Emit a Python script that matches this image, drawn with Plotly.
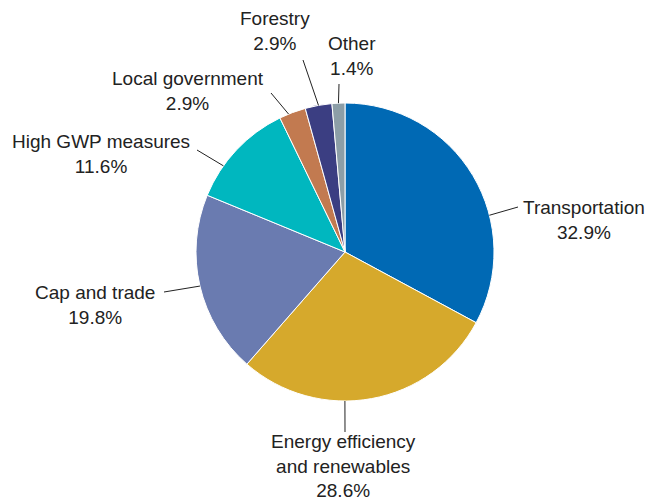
import math
import plotly.graph_objects as go

# ---- data ----
categories = ["Transportation", "Energy efficiency<br>and renewables", "Cap and trade",
              "High GWP measures", "Local government", "Forestry", "Other"]
shares = [32.9, 28.6, 19.8, 11.6, 2.9, 2.9, 1.4]
pct_labels = ["32.9%", "28.6%", "19.8%", "11.6%", "2.9%", "2.9%", "1.4%"]

# ---- style / layout ----
colors = ["#0069b4", "#d6a92c", "#6a7bb0", "#00b7bf", "#c27a50", "#3b3e82", "#8c9ea7"]
OFF = 8  # page body margin
W, H = 657 - OFF, 501 - OFF
CX, CY, R = 345, 252, 149
FONT = "Liberation Sans, Arial, sans-serif"
# fraction within each slice where the leader line touches the rim
anchor_frac = [0.64, 0.60, 0.50, 0.31, 0.35, 0.5, 0.5]
# outer end of leader line (pixels) and text centre (pixels)
line_end = [(518, 207), (345, 432), (164, 292), (197, 150), (271, 93), (303, 60), (339, 84)]
text_pos = [(584, 220), (343, 466), (95, 305), (101, 154), (188, 91), (275, 31), (352, 56)]

def px(x):
    return (x - OFF) / W

def py(y):
    return 1 - (y - OFF) / H

fig = go.Figure()
fig.add_trace(go.Pie(
    labels=categories, values=shares, sort=False, direction="clockwise", rotation=0,
    marker=dict(colors=colors, line=dict(color="white", width=1)),
    textinfo="none", hoverinfo="label+percent", showlegend=False,
    domain=dict(x=[px(CX - R), px(CX + R)], y=[py(CY + R), py(CY - R)]),
))

total = sum(shares)
cum = 0.0
shapes, annotations = [], []
for i, v in enumerate(shares):
    a = 2 * math.pi * (cum + anchor_frac[i] * v) / total
    cum += v
    ax = CX + R * math.sin(a)
    ay = CY - R * math.cos(a)
    ex, ey = line_end[i]
    shapes.append(dict(type="line", xref="paper", yref="paper",
                       x0=px(ax), y0=py(ay), x1=px(ex), y1=py(ey),
                       line=dict(color="#222222", width=1)))
    tx, ty = text_pos[i]
    annotations.append(dict(xref="paper", yref="paper", x=px(tx), y=py(ty),
                            text=categories[i] + "<br>" + pct_labels[i],
                            showarrow=False, xanchor="center", yanchor="middle",
                            align="center", font=dict(family=FONT, size=19, color="#222222")))

fig.update_layout(width=W, height=H, margin=dict(l=0, r=0, t=0, b=0),
                  paper_bgcolor="white", plot_bgcolor="white",
                  shapes=shapes, annotations=annotations)
fig.write_html("out.html")
